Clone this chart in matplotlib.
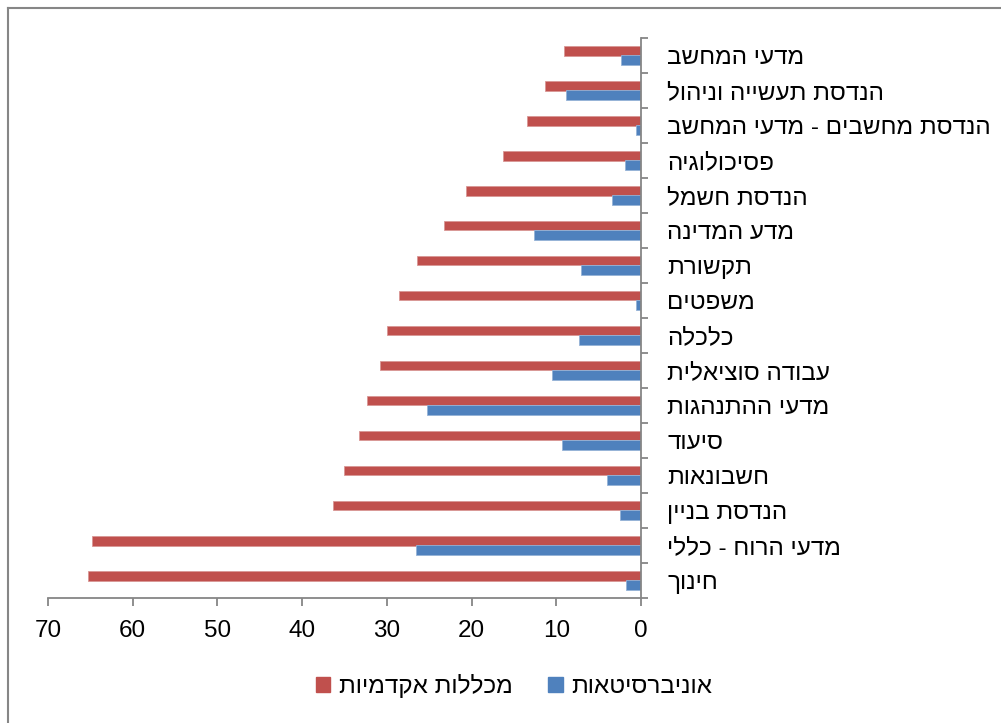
import matplotlib
matplotlib.use("Agg")
import matplotlib.pyplot as plt
from matplotlib.patches import Patch
from matplotlib.lines import Line2D
import numpy as np

plt.rcParams['font.family'] = ['Liberation Sans', 'DejaVu Sans']

# Categories (bottom to top), logical Hebrew order
categories = [
    "חינוך",
    "מדעי הרוח - כללי",
    "הנדסת בניין",
    "חשבונאות",
    "סיעוד",
    "מדעי ההתנהגות",
    "עבודה סוציאלית",
    "כלכלה",
    "משפטים",
    "תקשורת",
    "מדע המדינה",
    "הנדסת חשמל",
    "פסיכולוגיה",
    "הנדסת מחשבים - מדעי המחשב",
    "הנדסת תעשייה וניהול",
    "מדעי המחשב",
]
colleges = [65.3, 64.8, 36.4, 35.1, 33.3, 32.4, 30.8, 30.0, 28.6, 26.5, 23.3, 20.7, 16.3, 13.5, 11.3, 9.1]
universities = [1.8, 26.6, 2.5, 4.0, 9.3, 25.3, 10.5, 7.3, 0.6, 7.1, 12.6, 3.4, 1.9, 0.6, 8.9, 2.4]
series_names = ["מכללות אקדמיות", "אוניברסיטאות"]
x_ticks = [0, 10, 20, 30, 40, 50, 60, 70]


def vis(s):
    # matplotlib has no bidi support: present Hebrew in visual order
    return s[::-1]


RED = "#C0504D"
BLUE = "#4F81BD"
GREY = "#868686"
FS = 17.5

W, H = 1001, 723
fig = plt.figure(figsize=(W / 100, H / 100), dpi=100)
fig.patch.set_facecolor("white")

ax = fig.add_axes([48 / W, 1 - 598 / H, (641 - 48) / W, (598 - 38) / H])

y = np.arange(len(categories))
bh = 0.285
ax.barh(y + bh / 2, colleges, height=bh, color=RED, edgecolor="#D99795", linewidth=0.6)
ax.barh(y - bh / 2, universities, height=bh, color=BLUE, edgecolor="#95B3D7", linewidth=0.6)

ax.set_xlim(70, 0)
ax.set_ylim(-0.5, len(categories) - 0.5)

for s in ["left", "top"]:
    ax.spines[s].set_visible(False)
for s in ["right", "bottom"]:
    ax.spines[s].set_color(GREY)
    ax.spines[s].set_linewidth(1.3)

ax.yaxis.tick_right()
ax.set_yticks(y)
ax.set_yticklabels([vis(c) for c in categories], fontsize=FS)
ax.set_yticks(np.arange(-0.5, len(categories), 1.0), minor=True)
ax.tick_params(axis="y", which="major", length=0, pad=19)
ax.tick_params(axis="y", which="minor", length=5, width=1.3, color=GREY, direction="out")
for lbl in ax.get_yticklabels():
    lbl.set_horizontalalignment("left")

ax.set_xticks(x_ticks)
ax.set_xticklabels([str(t) for t in x_ticks], fontsize=FS)
ax.tick_params(axis="x", which="major", length=6, width=1.3, color=GREY, direction="out", pad=10)

# legend (red first, then blue)
handles = [Patch(facecolor=RED, edgecolor=RED), Patch(facecolor=BLUE, edgecolor=BLUE)]
fig.legend(handles, [vis(series_names[0]), vis(series_names[1])],
           loc="center", bbox_to_anchor=(514 / W, 1 - 686 / H), ncol=2, frameon=False,
           fontsize=FS, handlelength=0.6, handleheight=0.6, handletextpad=0.35,
           columnspacing=1.45)

# chart border (left and top edges visible)
fig.add_artist(Line2D([7.5 / W, 7.5 / W], [0, 1 - 8 / H], transform=fig.transFigure,
                      color=GREY, linewidth=1.5))
fig.add_artist(Line2D([7.5 / W, 1], [1 - 8 / H, 1 - 8 / H], transform=fig.transFigure,
                      color=GREY, linewidth=1.5))

fig.savefig("out.png", dpi=100, facecolor="white")
